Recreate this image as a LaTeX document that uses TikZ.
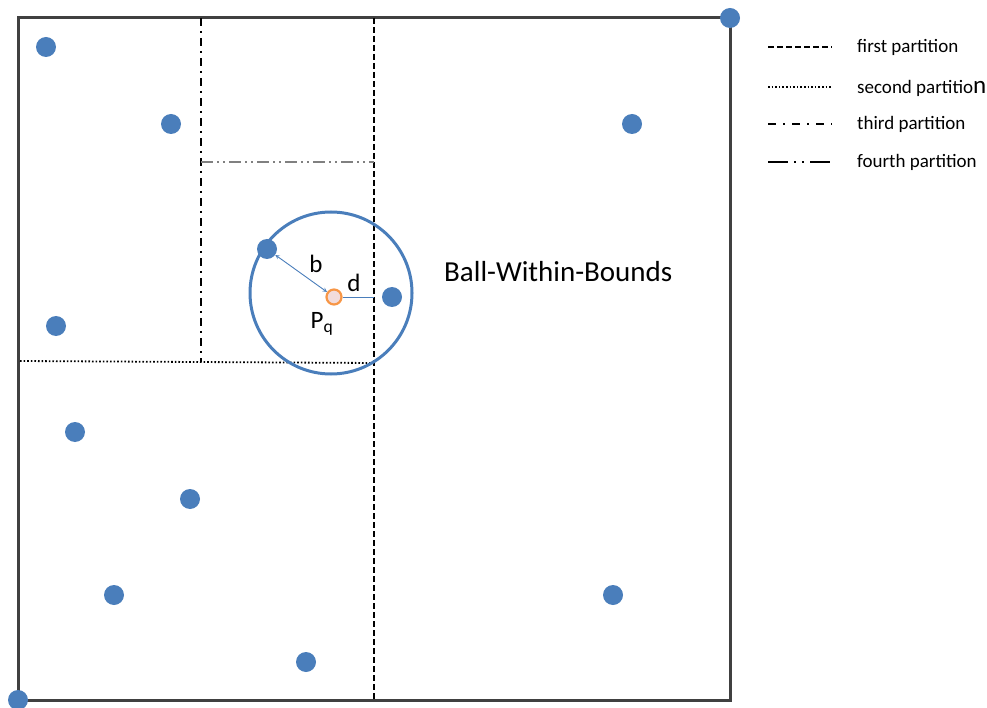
\documentclass[tikz,border=0pt]{standalone}
\usepackage{fontspec}
\setmainfont{Carlito}
\begin{document}
\begin{tikzpicture}[x=1pt,y=-1pt,
  pt/.style={circle,fill=ptblue,minimum size=20pt,inner sep=0pt},
  dfirst/.style={line width=1.8pt,dash pattern=on 6pt off 3pt},
  dsecond/.style={line width=1.8pt,dash pattern=on 1.6pt off 2pt},
  dthird/.style={line width=1.8pt,dash pattern=on 8pt off 5pt on 2pt off 5pt},
  dfourth/.style={line width=1.6pt,dash pattern=on 12pt off 4pt on 2pt off 4pt on 2pt off 4pt},
  lbl/.style={font=\fontsize{25}{28}\selectfont,inner sep=0pt},
  leg/.style={anchor=west,font=\fontsize{19}{21}\selectfont,inner sep=0pt}]
\definecolor{ptblue}{HTML}{4A7EBB}
\definecolor{frame}{HTML}{404040}
\definecolor{pqorange}{HTML}{F79646}
\definecolor{pqfill}{HTML}{F2DCDB}
\useasboundingbox (0,0) rectangle (987,708);
% frame
\draw[frame,line width=3pt] (18,18) rectangle (730,700);
% partitions
\coordinate (f1) at (374,18); \coordinate (f2) at (374,700);
\draw[dfirst] (f1) -- (f2);
\coordinate (s1) at (20,361); \coordinate (s2) at (374,363);
\draw[dsecond] (s1) -- (s2);
\coordinate (t1) at (201,18); \coordinate (t2) at (201,362);
\draw[dthird] (t1) -- (t2);
\coordinate (q1) at (201,162); \coordinate (q2) at (374,162);
\draw[dfourth,gray] (q1) -- (q2);
% ball
\node[circle,draw=ptblue,line width=3pt,minimum size=162pt,inner sep=0pt] (ball) at (331,293) {};
% points
\node[pt] (p1) at (46,47) {};
\node[pt] (p2) at (171,124) {};
\node[pt] (p3) at (632,124) {};
\node[pt] (p4) at (267,249) {};
\node[pt] (p5) at (392,297) {};
\node[pt] (p6) at (56,326) {};
\node[pt] (p7) at (75,432) {};
\node[pt] (p8) at (190,499) {};
\node[pt] (p9) at (114,595) {};
\node[pt] (p10) at (613,595) {};
\node[pt] (p11) at (306,662) {};
\node[pt] (p12) at (730,18) {};
\node[pt] (p13) at (18,700) {};
% query point
\node[circle,draw=pqorange,fill=pqfill,line width=2.2pt,minimum size=15pt,inner sep=0pt] (pq) at (334,297) {};
\draw[ptblue,line width=0.9pt,<->,>=stealth] (p4) -- (pq);
\coordinate (dend) at (374,297);
\draw[ptblue,line width=0.9pt] (pq.east) -- (dend);
\node[lbl] (lb) at (316,264) {b};
\node[lbl] (ld) at (354,283) {d};
\node[lbl] (lpq) at (322,324) {P\textsubscript{q}};
\node[anchor=west,inner sep=0pt,font=\fontsize{29}{32}\selectfont] (title) at (444,272) {Ball-Within-Bounds};
% legend
\coordinate (a1) at (768,47); \coordinate (a2) at (832,47);
\draw[dfirst] (a1) -- (a2);
\node[leg] (l1) at (857,47) {first partition};
\coordinate (b1) at (768,87); \coordinate (b2) at (832,87);
\draw[dsecond] (b1) -- (b2);
\node[leg] (l2) at (857,88) {second partitio{\fontsize{25}{26}\selectfont n}};
\coordinate (c1) at (768,124); \coordinate (c2) at (832,124);
\draw[line width=1.8pt,dash pattern=on 8pt off 7pt on 2pt off 7pt] (c1) -- (c2);
\node[leg] (l3) at (857,124) {third partition};
\coordinate (e1) at (768,162); \coordinate (e2) at (832,162);
\draw[line width=1.8pt,dash pattern=on 20pt off 6pt on 2pt off 6pt on 2pt off 6pt] (e1) -- (e2);
\node[leg] (l4) at (857,162) {fourth partition};
\end{tikzpicture}
\end{document}
